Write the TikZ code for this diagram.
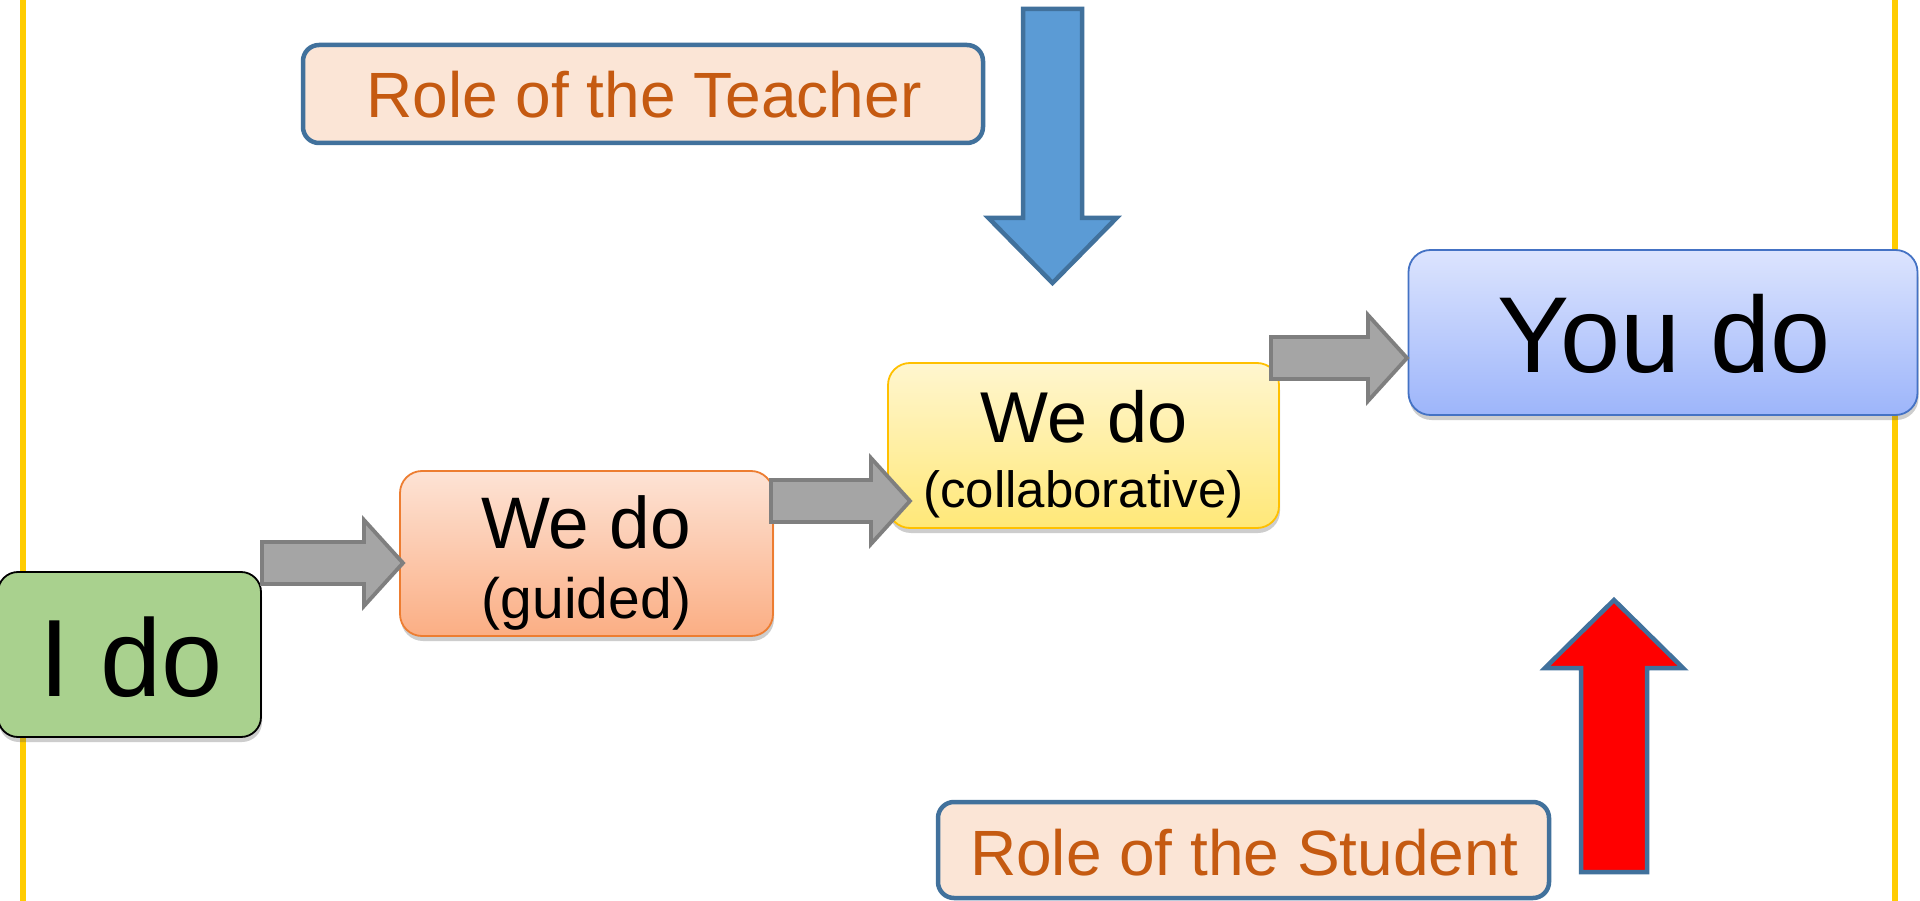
\documentclass[tikz,border=0pt]{standalone}
\usepackage{fontspec}
\setmainfont{Liberation Sans}
\usetikzlibrary{calc,shadows}
\definecolor{goldline}{HTML}{FFCC00}
\definecolor{idofill}{HTML}{A9D18E}
\definecolor{gtop}{HTML}{FDE3D5}
\definecolor{gbot}{HTML}{FBAE84}
\definecolor{gborder}{HTML}{ED7D31}
\definecolor{ctop}{HTML}{FFF6CF}
\definecolor{cbot}{HTML}{FFE878}
\definecolor{cborder}{HTML}{FFC000}
\definecolor{ytop}{HTML}{DCE4FE}
\definecolor{ybot}{HTML}{9DB5FA}
\definecolor{yborder}{HTML}{4472C4}
\definecolor{rolefill}{HTML}{FBE5D6}
\definecolor{roleborder}{HTML}{41719C}
\definecolor{roletext}{HTML}{C55A11}
\definecolor{bluearrow}{HTML}{5B9BD5}
\definecolor{grayfill}{HTML}{A5A5A5}
\definecolor{grayline}{HTML}{7F7F7F}
\newcommand{\hfatarrow}[2]{%
  \draw[grayarr] ($(#1)+(0,-21)$) -- ($(#2)+(-39,-21)$) -- ($(#2)+(-39,-43)$) -- (#2)
    -- ($(#2)+(-39,43)$) -- ($(#2)+(-39,21)$) -- ($(#1)+(0,21)$) -- cycle;}
\begin{document}
\begin{tikzpicture}[x=1pt,y=-1pt,
  stepshadow/.style={drop shadow={opacity=0.28,shadow xshift=1pt,shadow yshift=-5pt,fill=black!70}},
  stagebox/.style={rectangle,rounded corners=22pt,line width=1.8pt,inner sep=0pt,stepshadow},
  rolebox/.style={rectangle,rounded corners=16pt,line width=4.5pt,draw=roleborder,fill=rolefill,inner sep=0pt},
  lbl/.style={anchor=base,inner sep=0pt,text=black},
  rolelbl/.style={anchor=base,inner sep=0pt,text=roletext,font=\fontsize{64}{70}\selectfont},
  grayarr/.style={fill=grayfill,draw=grayline,line width=3.8pt,line join=miter},
  blockarr/.style={draw=roleborder,line width=4.5pt,line join=miter}]
\useasboundingbox (0,0) rectangle (1920,901);
\fill[white] (0,0) rectangle (1920,901);
% frame lines
\coordinate (lt) at (23,0); \coordinate (lb) at (23,901);
\coordinate (rt) at (1895,0); \coordinate (rb) at (1895,901);
\draw[goldline,line width=6pt] (lt) -- (lb);
\draw[goldline,line width=6pt] (rt) -- (rb);
% role boxes
\node[rolebox,minimum width=680pt,minimum height=98pt] (teacher) at (643,94) {};
\node[rolelbl] (teachertxt) at (644,118) {Role of the Teacher};
\node[rolebox,minimum width=611pt,minimum height=96pt] (student) at (1243.5,850) {};
\node[rolelbl] (studenttxt) at (1244,875) {Role of the Student};
% stage boxes
\node[stagebox,rounded corners=20pt,draw=black,fill=idofill,minimum width=263pt,minimum height=165pt] (ido) at (129.5,654.5) {};
\node[lbl,font=\fontsize{110}{120}\selectfont] (idotxt) at (131,696) {I do};
\node[stagebox,draw=gborder,top color=gtop,bottom color=gbot,minimum width=373pt,minimum height=165pt] (guided) at (586.5,553.5) {};
\node[lbl,font=\fontsize{73}{80}\selectfont] (guidedtxt) at (586,548) {We do};
\node[lbl,font=\fontsize{57}{64}\selectfont] (guidedsub) at (586.5,618) {(guided)};
\node[stagebox,draw=cborder,top color=ctop,bottom color=cbot,minimum width=391pt,minimum height=165pt] (collab) at (1083.5,445.5) {};
\node[lbl,font=\fontsize{72}{80}\selectfont] (collabtxt) at (1084,442) {We do};
\node[lbl,font=\fontsize{51}{58}\selectfont] (collabsub) at (1083.5,507) {(collaborative)};
\node[stagebox,draw=yborder,top color=ytop,bottom color=ybot,minimum width=509pt,minimum height=165pt] (youdo) at (1663,332.5) {};
\node[lbl,font=\fontsize{108}{118}\selectfont] (youdotxt) at (1664,373) {You do};
% gray arrows between stages
\coordinate (a1s) at (ido.east |- 0,563);
\coordinate (a1e) at (403,563);
\coordinate (a2s) at (771,501);
\coordinate (a2e) at (910,501);
\coordinate (a3s) at (1271,358);
\coordinate (a3e) at (1407,358);
\hfatarrow{a1s}{a1e}
\hfatarrow{a2s}{a2e}
\hfatarrow{a3s}{a3e}
% teacher arrow (down)
\coordinate (btop) at (1052.5,9);
\coordinate (btip) at (1052.5,283);
\draw[blockarr,fill=bluearrow] ($(btop)+(-29.5,0)$) -- ($(btop)+(29.5,0)$) -- ($(btop)+(29.5,209)$)
  -- ($(btop)+(64,209)$) -- (btip) -- ($(btop)+(-64,209)$) -- ($(btop)+(-29.5,209)$) -- cycle;
% student arrow (up)
\coordinate (rbot) at (1614,872);
\coordinate (rtip) at (1614,600);
\draw[blockarr,fill=red] ($(rbot)+(-33,0)$) -- ($(rbot)+(33,0)$) -- ($(rbot)+(33,-204)$)
  -- ($(rbot)+(69,-204)$) -- (rtip) -- ($(rbot)+(-69,-204)$) -- ($(rbot)+(-33,-204)$) -- cycle;
\end{tikzpicture}
\end{document}
